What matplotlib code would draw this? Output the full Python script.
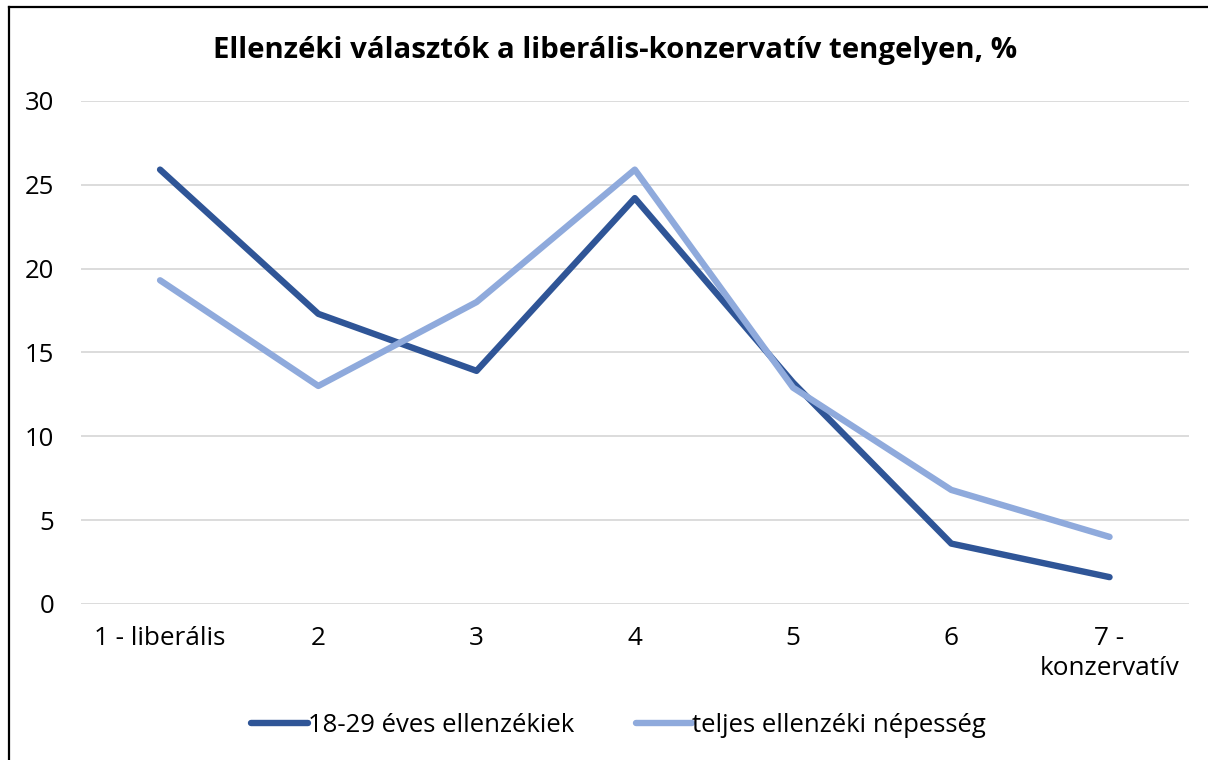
import matplotlib.pyplot as plt
from matplotlib.lines import Line2D

# data
categories = ["1 - liberális", "2", "3", "4", "5", "6", "7 -\nkonzervatív"]
young = [25.9, 17.3, 13.9, 24.2, 13.2, 3.6, 1.6]
total = [19.3, 13.0, 18.0, 25.9, 12.9, 6.8, 4.0]
series_names = ["18-29 éves ellenzékiek", "teljes ellenzéki népesség"]
yticks = [0, 5, 10, 15, 20, 25, 30]

plt.rcParams['font.family'] = ['Open Sans', 'DejaVu Sans']

fig = plt.figure(figsize=(12.08, 7.6), dpi=100)
ax = fig.add_axes([0.067, 0.2053, 0.917, 0.662])

x = range(len(categories))
ax.plot(x, young, color="#2F5597", lw=4.6, solid_capstyle="round", label=series_names[0], zorder=3)
ax.plot(x, total, color="#8FAADC", lw=4.6, solid_capstyle="round", label=series_names[1], zorder=3)

ax.set_xlim(-0.5, len(categories) - 0.5)
ax.set_ylim(0, 30)
ax.set_yticks(yticks)
ax.set_xticks(list(x))
ax.set_xticklabels(categories, fontsize=18.8, linespacing=1.25)
ax.tick_params(axis="y", labelsize=18.5, length=0, pad=19)
ax.tick_params(axis="x", length=0, pad=16)
ax.grid(axis="y", color="#d9d9d9", lw=1.3)
ax.set_axisbelow(True)
for s in ax.spines.values():
    s.set_visible(False)

fig.text(0.509, 0.934, "Ellenzéki választók a liberális-konzervatív tengelyen, %",
         ha="center", va="center", fontsize=21.2, fontweight="bold")

fig.legend(loc="center", bbox_to_anchor=(0.512, 0.046), ncol=2, frameon=False,
           fontsize=18.5, handlelength=2.2, handletextpad=0.0, columnspacing=2.4)

# outer frame (only top and left visible in the reference)
fig.add_artist(Line2D([0.0075, 0.0075], [0, 0.991], color="black", lw=1.6, transform=fig.transFigure))
fig.add_artist(Line2D([0.0075, 1.0], [0.991, 0.991], color="black", lw=1.6, transform=fig.transFigure))

fig.savefig("out.png", dpi=100)
